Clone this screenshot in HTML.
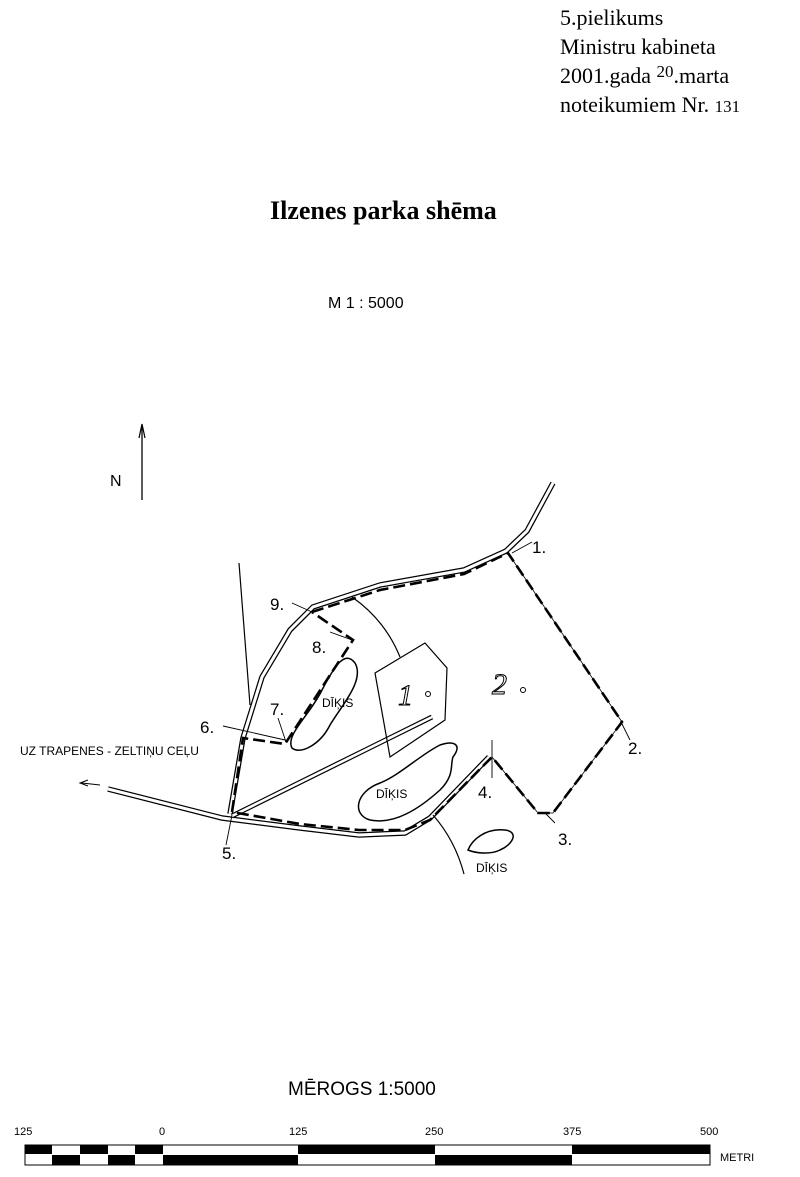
<!DOCTYPE html>
<html><head><meta charset="utf-8"><style>
html,body{margin:0;padding:0;background:#fff}
svg{display:block}
.serif{font-family:"Liberation Serif",serif}
.sans{font-family:"Liberation Sans",sans-serif}
</style></head><body>
<svg width="800" height="1177" viewBox="0 0 800 1177" xmlns="http://www.w3.org/2000/svg">
<g class="serif" font-size="22" fill="#000">
<text x="560" y="25">5.pielikums</text>
<text x="560" y="54">Ministru kabineta</text>
<text x="560" y="83">2001.gada <tspan font-size="17" dy="-6">20</tspan><tspan dy="6">.marta</tspan></text>
<text x="560" y="112">noteikumiem Nr. <tspan font-size="17">131</tspan></text>
<text x="270" y="219" font-size="26" font-weight="bold">Ilzenes parka shēma</text>
</g>
<text x="328" y="308" class="sans" font-size="16">M 1 : 5000</text>
<!-- north -->
<line x1="142" y1="500" x2="142" y2="425" stroke="#000" stroke-width="1.3"/>
<path d="M139,438 L142,424 L145,438" fill="none" stroke="#000" stroke-width="1.2"/>
<text x="110" y="486" class="sans" font-size="16">N</text>

<g fill="none" stroke="#000">
<path d="M553,483 L527,531 L506,551 L464,570 L380,585 L313,607 L290,630 L262,677 L243,738 L230,814" stroke-width="5.5"/>
<path d="M553,483 L527,531 L506,551 L464,570 L380,585 L313,607 L290,630 L262,677 L243,738 L230,814" stroke="#fff" stroke-width="3"/>
<path d="M108,789 L222,818 L300,828 L359,835 L405,833 L430,818 L489,757" stroke-width="5.5"/>
<path d="M108,789 L222,818 L300,828 L359,835 L405,833 L430,818 L489,757" stroke="#fff" stroke-width="3"/>
<path d="M100,785 L82,783" stroke-width="1"/>
<path d="M88,780 L80,783 L88,786" stroke-width="1"/>
<path d="M232,816 L432,717" stroke-width="5"/>
<path d="M232,816 L432,717" stroke="#fff" stroke-width="2.6"/>
<path d="M239,563 L250,705" stroke-width="1.2"/>
<path d="M352,597 Q385,620 400,657" stroke-width="1.2"/>
<path d="M433,815 Q455,840 464,874" stroke-width="1.2"/>
<path d="M375,673 L425,643 L447,668 L445,720 L390,757 Z" stroke-width="1.2"/>
<path d="M355,663 C345,650 335,665 322,690 C310,715 285,735 292,748 C300,755 320,745 330,725 C342,705 365,680 355,663 Z" stroke-width="1.5"/>
<path d="M453,757 C462,745 455,740 440,745 C420,755 400,775 380,783 C355,792 352,815 370,820 C395,825 420,808 440,790 C455,775 450,765 453,757 Z" stroke-width="1.5"/>
<path d="M468,850 C472,840 485,828 505,830 C520,832 512,845 500,850 C490,855 475,853 468,850 Z" stroke-width="1.5"/>
<g stroke-width="2.6" stroke-dasharray="12,5">
<path d="M312,612 L380,590 L464,574 L508,553 L622,722 L553,813 L538,813 L492,757 L485,764 L430,820 L405,830 L359,830 L300,824 L232,812 L243,738 L285,744 L353,640 L312,612"/>
</g>
<g stroke-width="0.8">
<path d="M508,553 L622,722 L553,813 L538,813 L492,757"/>
</g>
<path d="M532,542 L512,553 M630,740 L622,724 M555,823 L545,813 M492,740 L492,778 M232,815 L226,845 M223,726 L285,740 M278,718 L286,742 M330,632 L352,640 M292,603 L312,612" stroke-width="0.9"/>
</g>
<g class="sans" font-size="17" fill="#000">
<text x="532" y="553">1.</text>
<text x="628" y="754">2.</text>
<text x="558" y="845">3.</text>
<text x="478" y="798">4.</text>
<text x="222" y="859">5.</text>
<text x="200" y="733">6.</text>
<text x="270" y="715">7.</text>
<text x="312" y="653">8.</text>
<text x="270" y="610">9.</text>
<text x="322" y="707" font-size="12">DĪĶIS</text>
<text x="376" y="798" font-size="12">DĪĶIS</text>
<text x="476" y="872" font-size="12">DĪĶIS</text>
<text x="20" y="755" font-size="12">UZ TRAPENES - ZELTIŅU CEĻU</text>
</g>
<g class="serif" font-style="italic" font-size="30" fill="#fff" stroke="#000" stroke-width="1">
<text x="398" y="705">1</text>
<text x="492" y="694">2</text>
</g>
<circle cx="428" cy="694" r="2.5" fill="none" stroke="#000"/>
<circle cx="523" cy="690" r="2.5" fill="none" stroke="#000"/>
<text x="288" y="1095" class="sans" font-size="19">MĒROGS 1:5000</text>
<g class="sans" font-size="11" fill="#000">
<text x="14" y="1135">125</text><text x="159" y="1135">0</text>
<text x="289" y="1135">125</text><text x="425" y="1135">250</text>
<text x="563" y="1135">375</text><text x="700" y="1135">500</text>
<text x="720" y="1161">METRI</text>
</g>
<g fill="#000">
<rect x="25" y="1145" width="27" height="9"/><rect x="80" y="1145" width="28" height="9"/><rect x="135" y="1145" width="28" height="9"/>
<rect x="52" y="1155" width="28" height="10"/><rect x="108" y="1155" width="27" height="10"/>
<rect x="163" y="1155" width="135" height="10"/><rect x="298" y="1145" width="137" height="9"/>
<rect x="435" y="1155" width="137" height="10"/><rect x="572" y="1145" width="138" height="9"/>
</g>
<rect x="25" y="1145" width="685" height="20" fill="none" stroke="#000" stroke-width="1"/>
</svg>
</body></html>
